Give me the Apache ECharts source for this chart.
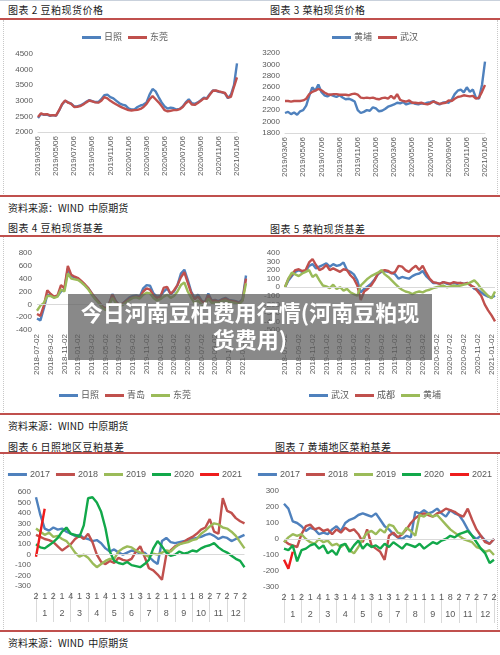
<!DOCTYPE html>
<html>
<head>
<meta charset="utf-8">
<script src="https://cdn.jsdelivr.net/npm/echarts@6/dist/echarts.min.js"></script>
<style>
  body { margin: 0; width: 500px; height: 655px; background: #fff; position: relative; overflow: hidden;
         font-family: "Noto Sans CJK SC", sans-serif; }
  .chart { position: absolute; width: 250px; height: 170px; }
  .title { position: absolute; font-size: 10px; color: #1a1a1a; white-space: nowrap; line-height: 12px; letter-spacing: 0.5px; }
  .source { position: absolute; left: 8px; font-size: 10px; color: #1a1a1a; white-space: nowrap; line-height: 12px; }
  .rule { position: absolute; left: 0; width: 500px; height: 2px; background: #c0504d; }
  .edge { position: absolute; width: 0; border-left: 1px dotted #c8c8c8; }
  .top { position: absolute; left: 0; top: 0; width: 500px; height: 1px; background: #c9d1dc; }
  #banner { position: absolute; left: 68px; top: 294px; width: 364px; height: 66px; background: rgba(92, 92, 92, 0.72);
            color: #fff; font-weight: 700; font-size: 22px; line-height: 27px; text-align: center; padding-top: 4px;
            box-sizing: border-box; }
</style>
</head>
<body>
<div class="top"></div>
<div class="edge" style="left:3px;top:20px;height:176px"></div>
<div class="edge" style="left:497px;top:20px;height:176px"></div>
<div class="edge" style="left:3px;top:237px;height:177px"></div>
<div class="edge" style="left:497px;top:237px;height:177px"></div>
<div class="edge" style="left:3px;top:454px;height:177px"></div>
<div class="edge" style="left:497px;top:454px;height:177px"></div>

<div class="title" style="left:8px;top:4px">图表 2 豆粕现货价格</div>
<div class="title" style="left:270px;top:4px">图表 3 菜粕现货价格</div>
<div class="rule" style="top:18px"></div>
<div class="chart" id="soy-price" style="left:0;top:25px"></div>
<div class="chart" id="rape-price" style="left:250px;top:25px"></div>
<div class="rule" style="top:195px"></div>
<div class="source" style="top:202px">资料来源：WIND&nbsp;&nbsp;中原期货</div>

<div class="title" style="left:8px;top:222px">图表 4 豆粕现货基差</div>
<div class="title" style="left:270px;top:223px">图表 5 菜粕现货基差</div>
<div class="rule" style="top:235px"></div>
<div class="chart" id="soy-basis" style="left:0;top:240px"></div>
<div class="chart" id="rape-basis" style="left:250px;top:240px"></div>
<div class="rule" style="top:413px"></div>
<div class="source" style="top:420px">资料来源：WIND&nbsp;&nbsp;中原期货</div>

<div class="title" style="left:8px;top:441px">图表 6 日照地区豆粕基差</div>
<div class="title" style="left:275px;top:441px">图表 7 黄埔地区菜粕基差</div>
<div class="rule" style="top:452px"></div>
<div class="chart" id="rizhao-season" style="left:0;top:458px"></div>
<div class="chart" id="huangpu-season" style="left:250px;top:458px"></div>
<div class="rule" style="top:630px"></div>
<div class="source" style="top:637px">资料来源：WIND&nbsp;&nbsp;中原期货</div>

<div id="banner">今日河南豆柏费用行情(河南豆粕现<br>货费用)</div>

<script>
/* jshint esversion: 6 */
// =====================================================================================================================
// Donnees
let priceTicks = ['2019/03/06', '2019/05/06', '2019/07/06', '2019/09/06', '2019/11/06', '2020/01/06',
  '2020/03/06', '2020/05/06', '2020/07/06', '2020/09/06', '2020/11/06', '2021/01/06'];
let basisTicks = ['2018-07-02', '2018-09-02', '2018-11-02', '2019-01-02', '2019-03-02', '2019-05-02', '2019-07-02',
  '2019-09-02', '2019-11-02', '2020-01-02', '2020-03-02', '2020-05-02', '2020-07-02', '2020-09-02', '2020-11-02',
  '2021-01-02'];
let dayTicks = ['2', '1', '2', '1', '4', '1', '3', '1', '4', '1', '3', '1', '3', '1', '2', '1', '1', '1', '1', '8',
  '2', '7', '2', '7', '2'];
let monthTicks = ['1', '2', '3', '4', '5', '6', '7', '8', '9', '10', '11', '12'];

// Graph 2 : prix spot tourteau de soja
let rizhaoPrice = [2450, 2580, 2550, 2560, 2520, 2540, 2520, 2690, 2880, 3000, 2950, 2910, 2820, 2820, 2850, 2900,
  2970, 3020, 2990, 2960, 2960, 3050, 3180, 3200, 3120, 3080, 3000, 2920, 2880, 2850, 2760, 2720, 2720, 2800, 2850,
  2880, 2950, 3200, 3380, 3300, 3120, 2950, 2820, 2750, 2780, 2760, 2720, 2740, 2820, 2950, 3050, 2920, 2900, 2950,
  3020, 3100, 3080, 3220, 3330, 3320, 3290, 3270, 3240, 3080, 3200, 3500, 4200];
let dongguanPrice = [2480, 2600, 2560, 2570, 2530, 2540, 2530, 2700, 2900, 3010, 2940, 2900, 2800, 2810, 2830, 2880,
  2950, 3010, 2980, 2950, 2940, 3000, 3120, 3080, 3000, 2940, 2880, 2830, 2780, 2740, 2700, 2690, 2700, 2710, 2740,
  2800, 2900, 3050, 3150, 3050, 2950, 2830, 2700, 2660, 2680, 2700, 2700, 2730, 2800, 2920, 3000, 2880, 2870, 2930,
  3000, 3080, 3060, 3200, 3320, 3330, 3300, 3280, 3250, 3100, 3130, 3450, 3750];

// Graph 3 : prix spot tourteau de colza
let huangpuPrice = [2150, 2170, 2130, 2160, 2120, 2180, 2200, 2280, 2450, 2600, 2540, 2650, 2520, 2460, 2440, 2470,
  2450, 2430, 2460, 2420, 2390, 2400, 2380, 2350, 2200, 2150, 2170, 2200, 2190, 2250, 2230, 2180, 2190, 2220, 2260,
  2280, 2300, 2330, 2320, 2340, 2300, 2320, 2330, 2310, 2300, 2320, 2310, 2330, 2340, 2360, 2320, 2300, 2330, 2340,
  2330, 2380, 2480, 2540, 2560, 2510, 2600, 2520, 2560, 2420, 2400, 2640, 3050];
let wuhanPrice = [2360, 2360, 2350, 2360, 2360, 2360, 2370, 2400, 2480, 2520, 2540, 2570, 2550, 2510, 2480, 2470,
  2480, 2480, 2470, 2470, 2470, 2460, 2480, 2490, 2470, 2420, 2410, 2420, 2410, 2420, 2400, 2390, 2410, 2420, 2400,
  2450, 2400, 2480, 2380, 2360, 2350, 2370, 2330, 2330, 2320, 2330, 2310, 2300, 2320, 2350, 2330, 2310, 2320, 2330,
  2370, 2360, 2400, 2430, 2440, 2460, 2450, 2440, 2450, 2400, 2420, 2520, 2640];

// Graph 4 : base tourteau de soja
let rizhaoBasis = [-220, -250, -60, 150, 140, 110, 130, 200, 230, 560, 440, 420, 400, 350, 300, 250, 170, 100, 40, -30,
  -70, 0, 160, 50, -10, 10, 60, 110, 130, 140, 120, 250, 300, 290, 170, 120, 130, 200, 250, 160, 200, 300, 480, 540,
  380, 200, 100, 150, 60, 30, 170, 60, 70, 50, 80, 100, 70, 60, 50, 30, 80, 450];
let qingdaoBasis = [-150, -180, -20, 220, 160, 120, 140, 300, 250, 600, 460, 430, 410, 360, 310, 250, 170, 100, 40, -30,
  -70, 0, 150, 40, -10, 10, 50, 90, 110, 120, 110, 200, 250, 230, 140, 100, 120, 260, 270, 160, 220, 300, 420, 500,
  340, 180, 80, 120, 50, 20, 140, 50, 60, 40, 70, 90, 60, 50, 40, 20, 60, 400];
let dongguanBasis = [-100, -20, 20, 130, 130, 100, 120, 230, 200, 480, 400, 390, 380, 340, 290, 230, 150, 80, 20, -50,
  -90, -30, 100, 20, -30, -10, 30, 70, 100, 110, 90, 150, 180, 170, 100, 60, 80, 120, 150, 100, 130, 200, 300, 340,
  200, 100, 20, 60, 0, -20, 90, 20, 30, 20, 50, 60, 40, 30, 20, 0, 60, 330];

// Graph 5 : base tourteau de colza
let wuhanBasis = [0, 80, 130, 180, 200, 180, 190, 250, 270, 220, 240, 260, 280, 240, 270, 250, 260, 290, 200, 180,
  150, 80, -60, -20, 10, 40, 90, 150, 180, 190, 180, 170, 150, 100, 120, 110, 100, 130, 150, 160, 190, 130, 90, 50,
  50, 40, 60, 40, 40, 50, 40, 50, 40, 50, 20, -20, -30, -60, -90, -110, -120, -100];
let chengduBasis = [0, 100, 150, 200, 210, 190, 200, 290, 330, 260, 200, 220, 260, 200, 220, 200, 180, 210, 200, 140,
  100, 20, -150, -50, -20, 20, 80, 160, 190, 200, 190, 160, 180, 250, 240, 200, 180, 220, 250, 200, 250, 170, 100, 60,
  50, 40, 60, 50, 40, 60, 50, 50, 40, 50, 20, 0, -50, -100, -200, -270, -330, -400];
let huangpuBasis = [0, 100, 170, 150, 130, 160, 180, 200, 120, 150, 80, 20, 10, -10, 30, -20, 0, -40, -20, -60,
  -80, -100, 20, 60, 100, 130, 150, 170, 200, 150, 120, 80, 40, 0, -30, -50, -60, -80, -60, -50, -60, -40, -30, -10,
  0, 10, 20, 0, 10, 20, 10, 20, 30, 40, 60, 80, 40, -20, -60, -100, -130, -50];

// Graph 6 : base saisonniere Rizhao
let rizhao2017 = [550, 380, 250, 230, 260, 240, 250, 220, 200, 180, 190, 160, 150, 130, 140, 110, 60, 30, 50, 20,
  0, 20, 40, 30, 10, 20, -20, -60, -90, 130, 160, 120, 110, 120, 130, 140, 150, 160, 170, 190, 200, 180, 150, 170,
  160, 130, 150, 170, 190];
let rizhao2018 = [190, 170, 150, 140, 120, 80, 40, 70, 100, 150, 180, 150, 200, 120, 0, -70, -90, -60, -80, -30,
  -50, -60, -40, 30, 80, -20, -130, -150, -190, -240, 0, 40, 80, 100, 120, 150, 170, 200, 240, 260, 340, 220, 200,
  540, 420, 400, 350, 320, 300];
let rizhao2019 = [250, 220, 190, 210, 170, 180, 150, 130, 80, 20, -20, 0, -30, -80, -120, -90, -60, -40, -40, 30,
  60, 80, 70, 40, 20, 0, -20, 10, 0, 20, 40, 30, 70, 100, 110, 120, 140, 150, 200, 230, 270, 300, 290, 260, 250,
  220, 180, 120, 60];
let rizhao2020 = [100, 70, 60, 90, 120, 160, 220, 260, 200, 190, 170, 280, 540, 550, 500, 410, 250, 30, -60, -80,
  -90, -70, -100, -110, -120, -90, -50, 60, 130, 80, 20, -10, 0, 30, 10, 20, 40, 30, 60, 80, 90, 110, 70, 40, 20,
  -10, -40, -60, -120];
let rizhao2021 = [-20, 210, 440];

// Graph 7 : base saisonniere Huangpu
let huangpu2017 = [220, 190, 110, 100, 80, 50, 70, 60, 30, 40, 30, 60, 80, 50, 100, 120, 130, 150, 160, 150,
  140, 160, 120, 80, 60, 30, 10, 0, 20, 10, 170, 160, 180, 160, 170, 190, 160, 140, 180, 160, 150, 110, 60, 20,
  0, 20, -10, -30, 0];
let huangpu2018 = [-10, -30, -40, -50, 30, 80, 90, 60, 70, 50, 60, 30, 60, 40, 70, 50, 60, 30, -20, 60,
  -40, -60, -80, -130, 20, 40, 10, 30, 60, 100, 130, 150, 160, 150, 140, 160, 170, 190, 180, 170, 150, 140, 190, 120,
  60, 20, -20, -30, 0];
let huangpu2019 = [-20, 10, 30, 20, 30, 0, -20, -30, 0, -20, -10, -40, -30, -50, -30, -70, -90, -50, 0, 40,
  50, 30, 60, 40, 90, 80, 40, 30, 70, 50, 20, 150, 140, 160, 140, 150, 120, 90, 60, 40, 20, 0, -10, -20,
  -50, -60, -80, -70, -100];
let huangpu2020 = [-60, -70, -40, -140, -70, -60, -40, -30, -60, -40, -90, -70, -100, -40, -30, -80, -40, -10, -60, -30,
  -50, -40, -60, -30, -50, -20, -40, -60, -30, -40, -50, -30, -60, -40, -20, -30, -10, 0, 20, 10, 30, 40, 50, 20,
  -20, -60, -90, -150, -130];
let huangpu2021 = [-130, -185, -80];

// =====================================================================================================================
// Couleurs et styles communs
let color_blue = '#4f81bd';
let color_red = '#c0504d';
let color_olive = '#9bbb59';
let color_green = '#12a84a';
let color_bright = '#ee1c1c';
let font = '"Liberation Sans", "Noto Sans CJK SC", sans-serif';
let labelGrey = '#595959';

// catégories : 3 dates par mois pour les prix, 2 pour les bases, 4 par mois pour les saisons
function priceDays() {
  'use strict';
  let out = [];
  let y = 2019, m = 3;
  while (y < 2021 || m <= 1) {
    let mm = (m < 10 ? '0' : '') + m;
    out.push(y + '/' + mm + '/06');
    if (y === 2021) { break; }
    out.push(y + '/' + mm + '/16');
    out.push(y + '/' + mm + '/26');
    m++;
    if (m > 12) { m = 1; y++; }
  }
  return out;
}

function basisDays() {
  'use strict';
  let out = [];
  let y = 2018, m = 7;
  while (out.length < 62) {
    let mm = (m < 10 ? '0' : '') + m;
    out.push(y + '-' + mm + '-02');
    out.push(y + '-' + mm + '-17');
    m++;
    if (m > 12) { m = 1; y++; }
  }
  return out;
}

let weekSlots = Array.from({length: 49}, function (v, i) { return 'w' + i; });

function line(name, data, color) {
  'use strict';
  return {
    name: name,
    type: 'line',
    data: data,
    showSymbol: false,
    symbol: 'none',
    lineStyle: {color: color, width: 2.4},
    itemStyle: {color: color},
    animation: false
  };
}

let zeroLine = {
  silent: true,
  symbol: 'none',
  label: {show: false},
  lineStyle: {color: '#d9d9d9', width: 1, type: 'solid'},
  data: [{yAxis: 0}],
  animation: false
};

function legend(names, top) {
  'use strict';
  return {
    data: names,
    top: top,
    left: 'center',
    icon: 'rect',
    itemWidth: 19,
    itemHeight: 3,
    itemGap: 6,
    textStyle: {fontSize: 9, color: labelGrey, fontFamily: font, padding: [0, 0, 0, -2]}
  };
}

function yaxis(min, max, interval) {
  'use strict';
  return {
    type: 'value', min: min, max: max, interval: interval,
    axisLine: {show: false}, axisTick: {show: false}, splitLine: {show: false},
    axisLabel: {
      fontSize: 8, color: labelGrey, fontFamily: font, margin: 5,
      formatter: function (v) { return String(v); }
    }
  };
}

function dateAxis(days, step) {
  'use strict';
  return {
    type: 'category', data: days, boundaryGap: false,
    axisLine: {show: false, onZero: false},
    axisTick: {show: false},
    axisLabel: {
      rotate: 90, fontSize: 8, color: labelGrey, fontFamily: font, margin: 4,
      interval: function (index) { return index % step === 0; }
    }
  };
}

function seasonAxes() {
  'use strict';
  return [
    {
      type: 'category', data: weekSlots, boundaryGap: false,
      axisLine: {show: false, onZero: false}, axisTick: {show: false},
      axisLabel: {
        fontSize: 9, color: labelGrey, fontFamily: font, margin: 6,
        interval: function (index) { return index % 2 === 0; },
        formatter: function (value, index) { return dayTicks[index / 2]; }
      }
    },
    {
      type: 'category', data: monthTicks, boundaryGap: true, position: 'bottom', offset: 6,
      axisLine: {show: false, onZero: false},
      axisTick: {show: true, interval: 0, length: 30, lineStyle: {color: '#d9d9d9'}},
      axisLabel: {fontSize: 9, color: labelGrey, fontFamily: font, margin: 17, interval: 0}
    }
  ];
}

// =====================================================================================================================
// Graph 2
let chartSoyPrice = echarts.init(document.getElementById('soy-price'));
let soyPriceAxis = dateAxis(priceDays(), 6);
soyPriceAxis.axisLine = {show: true, lineStyle: {color: '#d9d9d9'}};
chartSoyPrice.setOption({
  animation: false,
  grid: {left: 38, right: 13, top: 29, bottom: 63},
  legend: legend(['日照', '东莞'], 3),
  xAxis: soyPriceAxis,
  yAxis: yaxis(2000, 4500, 500),
  series: [line('日照', rizhaoPrice, color_blue), line('东莞', dongguanPrice, color_red)]
});

// =====================================================================================================================
// Graph 3
let chartRapePrice = echarts.init(document.getElementById('rape-price'));
let rapePriceAxis = dateAxis(priceDays(), 6);
rapePriceAxis.axisLine = {show: true, lineStyle: {color: '#d9d9d9'}};
chartRapePrice.setOption({
  animation: false,
  grid: {left: 35, right: 15, top: 28, bottom: 62},
  legend: legend(['黄埔', '武汉'], 3),
  xAxis: rapePriceAxis,
  yAxis: yaxis(1800, 3200, 200),
  series: [line('黄埔', huangpuPrice, color_blue), line('武汉', wuhanPrice, color_red)]
});

// =====================================================================================================================
// Graph 4
let chartSoyBasis = echarts.init(document.getElementById('soy-basis'));
let soyBasisSeries = [
  line('日照', rizhaoBasis, color_blue),
  line('青岛', qingdaoBasis, color_red),
  line('东莞', dongguanBasis, color_olive)
];
soyBasisSeries[0].markLine = zeroLine;
chartSoyBasis.setOption({
  animation: false,
  grid: {left: 37, right: 4, top: 13, bottom: 80},
  legend: legend(['日照', '青岛', '东莞'], 146),
  xAxis: dateAxis(basisDays(), 4),
  yAxis: yaxis(-400, 800, 200),
  series: soyBasisSeries
});

// =====================================================================================================================
// Graph 5
let chartRapeBasis = echarts.init(document.getElementById('rape-basis'));
let rapeBasisSeries = [
  line('武汉', wuhanBasis, color_blue),
  line('成都', chengduBasis, color_red),
  line('黄埔', huangpuBasis, color_olive)
];
rapeBasisSeries[0].markLine = zeroLine;
chartRapeBasis.setOption({
  animation: false,
  grid: {left: 35, right: 5, top: 13, bottom: 80},
  legend: legend(['武汉', '成都', '黄埔'], 146),
  xAxis: dateAxis(basisDays(), 4),
  yAxis: yaxis(-500, 400, 100),
  series: rapeBasisSeries
});

// =====================================================================================================================
// Graph 6
let chartRizhao = echarts.init(document.getElementById('rizhao-season'));
let rizhaoSeries = [
  line('2017', rizhao2017, color_blue),
  line('2018', rizhao2018, color_red),
  line('2019', rizhao2019, color_olive),
  line('2020', rizhao2020, color_green),
  line('2021', rizhao2021, color_bright)
];
rizhaoSeries[0].markLine = zeroLine;
chartRizhao.setOption({
  animation: false,
  grid: {left: 36, right: 4, top: 34, bottom: 42},
  legend: legend(['2017', '2018', '2019', '2020', '2021'], 7),
  xAxis: seasonAxes(),
  yAxis: yaxis(-300, 600, 100),
  series: rizhaoSeries
});

// =====================================================================================================================
// Graph 7
let chartHuangpu = echarts.init(document.getElementById('huangpu-season'));
let huangpuSeries = [
  line('2017', huangpu2017, color_blue),
  line('2018', huangpu2018, color_red),
  line('2019', huangpu2019, color_olive),
  line('2020', huangpu2020, color_green),
  line('2021', huangpu2021, color_bright)
];
huangpuSeries[0].markLine = zeroLine;
chartHuangpu.setOption({
  animation: false,
  grid: {left: 34, right: 6, top: 33, bottom: 41},
  legend: legend(['2017', '2018', '2019', '2020', '2021'], 7),
  xAxis: seasonAxes(),
  yAxis: yaxis(-300, 300, 100),
  series: huangpuSeries
});
</script>
</body>
</html>
